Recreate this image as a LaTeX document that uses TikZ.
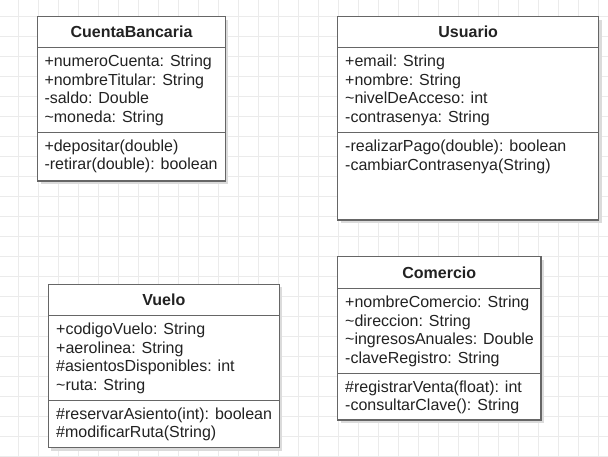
\documentclass[tikz,border=0pt]{standalone}
\usepackage{fontspec}
\setmainfont{Liberation Sans}
\definecolor{gridgray}{HTML}{EBEBEB}
\definecolor{boxgray}{HTML}{666666}
\definecolor{txtgray}{HTML}{222222}
\begin{document}
\begin{tikzpicture}[x=1pt,y=-1pt,
  classbox/.style={draw=boxgray, line width=1.2pt, fill=white, anchor=north west, inner sep=0pt, outer sep=0pt},
  shadowbox/.style={fill=black!14, draw=none, anchor=north west, inner sep=0pt, outer sep=0pt},
  divider/.style={draw=boxgray, line width=1.2pt},
  member/.style={anchor=base west, inner sep=0pt, text=txtgray, font=\fontsize{16}{18}\selectfont},
  title/.style={anchor=base, inner sep=0pt, text=txtgray, font=\fontsize{16}{18}\selectfont\bfseries},
  gridline/.style={draw=gridgray, line width=1pt}]
\useasboundingbox (0,0) rectangle (608,457);
\fill[white] (0,0) rectangle (608,457);
% grid
\foreach \gx in {0,...,29} {\draw[gridline] (18.3+20*\gx,0) -- (18.3+20*\gx,457);}
\foreach \gy in {0,...,22} {\draw[gridline] (0,16.7+20*\gy) -- (608,16.7+20*\gy);}

% ---------- CuentaBancaria ----------
\node[shadowbox, minimum width=187.6pt, minimum height=164.3pt] (cbs) at (40.7,19.7) {};
\node[classbox, minimum width=187.6pt, minimum height=164.3pt] (cb) at (37.7,16.7) {};
\coordinate (cbh) at (37.7,47.7);
\coordinate (cba) at (37.7,132.3);
\draw[divider] (cbh) -- (cbh -| cb.east);
\draw[divider] (cba) -- (cba -| cb.east);
\node[title] (cbt) at (131.5,37.9) {CuentaBancaria};
\node[member] (cb1) at (44.3,67) {+numeroCuenta: String};
\node[member] (cb2) at (44.3,85.5) {+nombreTitular: String};
\node[member] (cb3) at (44.3,104) {-saldo: Double};
\node[member] (cb4) at (44.3,122.5) {\textasciitilde moneda: String};
\node[member] (cb5) at (44.3,151.5) {+depositar(double)};
\node[member] (cb6) at (44.3,170) {-retirar(double): boolean};

% ---------- Usuario ----------
\node[shadowbox, minimum width=261pt, minimum height=203.3pt] (uss) at (340.7,19.7) {};
\node[classbox, minimum width=261pt, minimum height=203.3pt] (us) at (337.7,16.7) {};
\coordinate (ush) at (337.7,47.7);
\coordinate (usa) at (337.7,132.7);
\draw[divider] (ush) -- (ush -| us.east);
\draw[divider] (usa) -- (usa -| us.east);
\node[title] (ust) at (468.2,37.9) {Usuario};
\node[member] (us1) at (345,67) {+email: String};
\node[member] (us2) at (345,85.5) {+nombre: String};
\node[member] (us3) at (345,104) {\textasciitilde nivelDeAcceso: int};
\node[member] (us4) at (345,122.5) {-contrasenya: String};
\node[member] (us5) at (345,151.8) {-realizarPago(double): boolean};
\node[member] (us6) at (345,170.3) {-cambiarContrasenya(String)};

% ---------- Vuelo ----------
\node[shadowbox, minimum width=231pt, minimum height=163.4pt] (vus) at (51.3,287.3) {};
\node[classbox, minimum width=231pt, minimum height=163.4pt] (vu) at (48.3,284.3) {};
\coordinate (vuh) at (48.3,315.7);
\coordinate (vua) at (48.3,400.7);
\draw[divider] (vuh) -- (vuh -| vu.east);
\draw[divider] (vua) -- (vua -| vu.east);
\node[title] (vut) at (163.8,305.7) {Vuelo};
\node[member] (vu1) at (56,334.8) {+codigoVuelo: String};
\node[member] (vu2) at (56,353.3) {+aerolinea: String};
\node[member] (vu3) at (56,371.8) {\#asientosDisponibles: int};
\node[member] (vu4) at (56,390.3) {\textasciitilde ruta: String};
\node[member] (vu5) at (56,419) {\#reservarAsiento(int): boolean};
\node[member] (vu6) at (56,437.5) {\#modificarRuta(String)};

% ---------- Comercio ----------
\node[shadowbox, minimum width=203.3pt, minimum height=163.3pt] (cos) at (340.7,259.7) {};
\node[classbox, minimum width=203.3pt, minimum height=163.3pt] (co) at (337.7,256.7) {};
\coordinate (coh) at (337.7,288.3);
\coordinate (coa) at (337.7,373.3);
\draw[divider] (coh) -- (coh -| co.east);
\draw[divider] (coa) -- (coa -| co.east);
\node[title] (cot) at (439.3,278.2) {Comercio};
\node[member] (co1) at (345,307.5) {+nombreComercio: String};
\node[member] (co2) at (345,326) {\textasciitilde direccion: String};
\node[member] (co3) at (345,344.5) {\textasciitilde ingresosAnuales: Double};
\node[member] (co4) at (345,363) {-claveRegistro: String};
\node[member] (co5) at (345,392.3) {\#registrarVenta(float): int};
\node[member] (co6) at (345,410.8) {-consultarClave(): String};
\end{tikzpicture}
\end{document}
